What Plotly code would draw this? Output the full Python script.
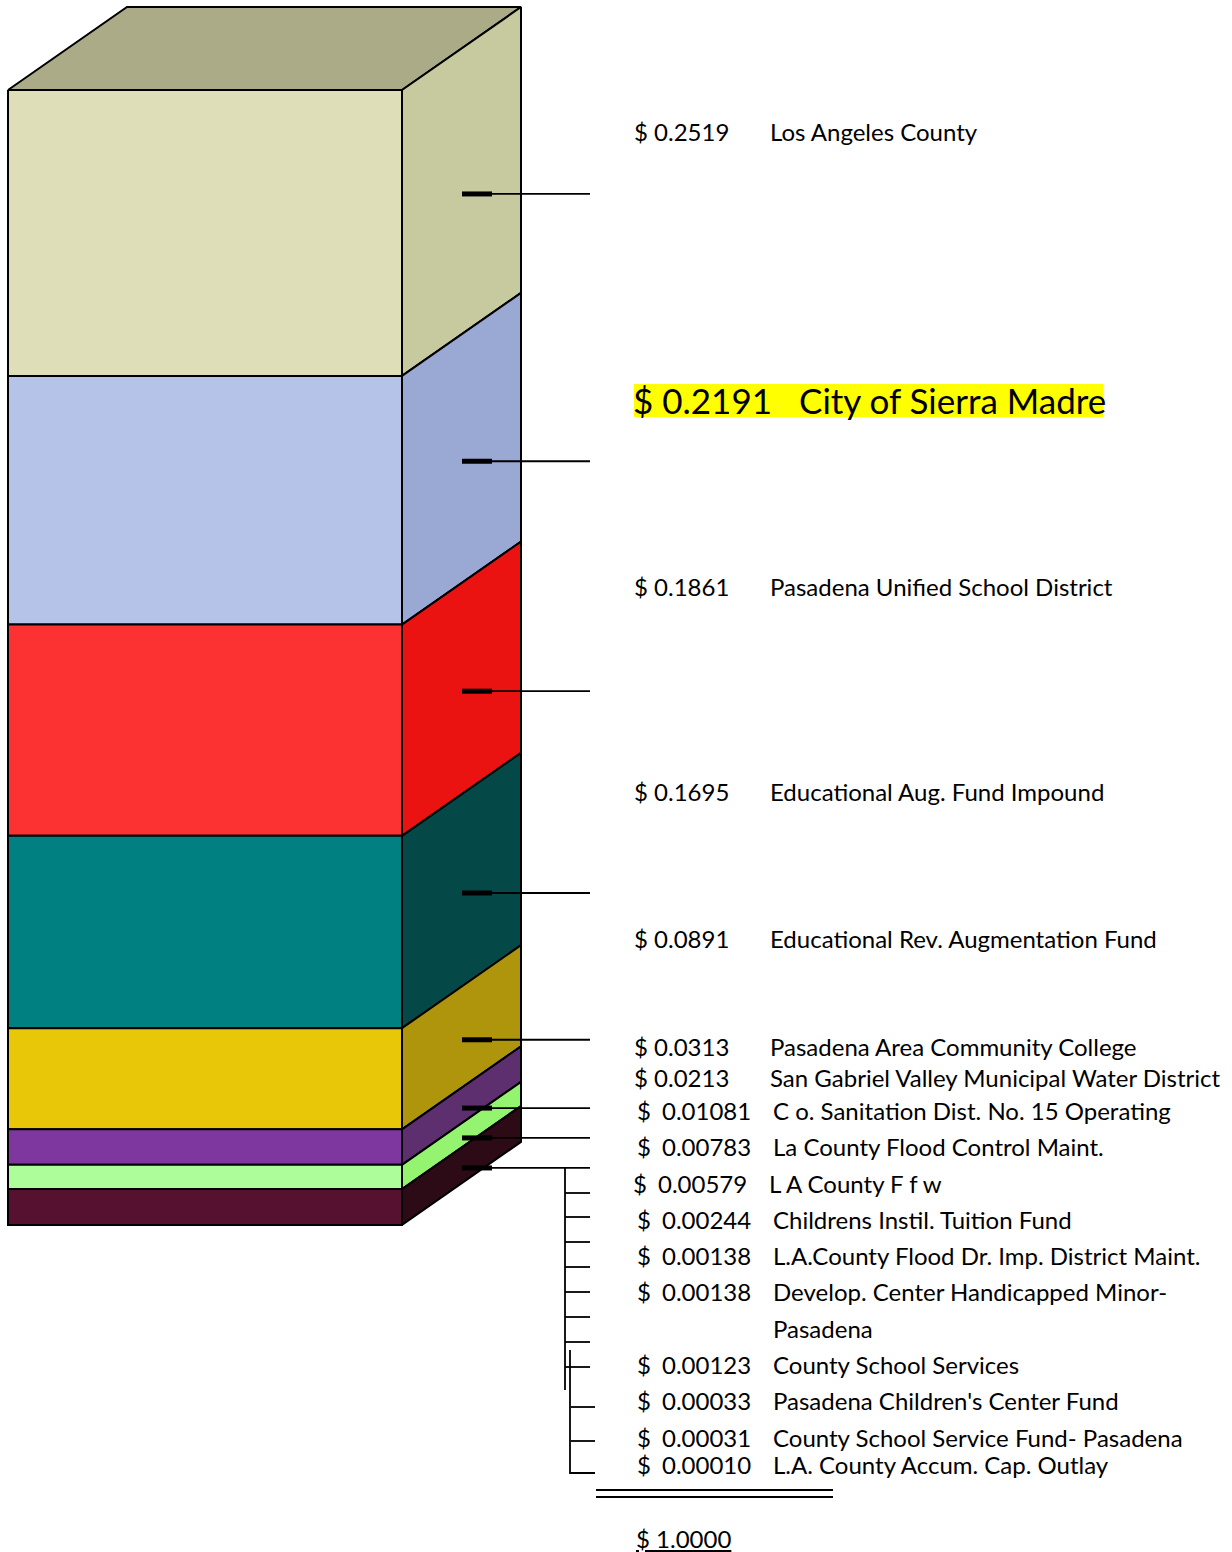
import plotly.graph_objects as go

# ---------------- data ----------------
seg_names = ["Los Angeles County", "City of Sierra Madre", "Pasadena Unified School District",
             "Educational Aug. Fund Impound", "Educational Rev. Augmentation Fund",
             "Pasadena Area Community College", "San Gabriel Valley Municipal Water District"]
seg_values = [0.2519, 0.2191, 0.1861, 0.1695, 0.0891, 0.0313, 0.0213]

small_names = ["C o. Sanitation Dist. No. 15 Operating", "La County Flood Control Maint.",
               "L A County F f w", "Childrens Instil. Tuition Fund",
               "L.A.County Flood Dr. Imp. District Maint.", "Develop. Center Handicapped Minor-",
               "County School Services", "Pasadena Children's Center Fund",
               "County School Service Fund- Pasadena", "L.A. County Accum. Cap. Outlay"]
small_values = ["0.01081", "0.00783", "0.00579", "0.00244", "0.00138", "0.00138",
                "0.00123", "0.00033", "0.00031", "0.00010"]
main_value_labels = ["0.2519", "0.2191", "0.1861", "0.1695", "0.0891", "0.0313", "0.0213"]
total_label = "1.0000"

# ---------------- styles / layout positions ----------------
front_colors = ["#DEDEB9", "#B5C3E8", "#FC3232", "#008080", "#E8C608", "#7F37A0", "#ADFE9A", "#561030"]
side_colors = ["#C7C99F", "#9AA9D3", "#EB1212", "#054848", "#AE950B", "#5E2F6F", "#94F470", "#2C0B16"]
top_color = "#ABAC87"

W, H = 1232, 1552
X0, X1 = 8, 402          # front face
DX, DY = 119, 83         # depth offset
Y_TOP, SCALE = 90, 1135  # pixels per unit of tax rate

FONT = "Lato"
FS = 24
FS_BIG = 35

main_label_y = [131, 400, 586, 791, 938, 1046, 1077]
small_label_y = [1110, 1146, 1183, 1219, 1255, 1291, 1364, 1400, 1437, 1464]

fig = go.Figure()

def poly(xs, ys, color, lw=2):
    fig.add_trace(go.Scatter(x=xs + [xs[0]], y=ys + [ys[0]], mode="lines", fill="toself",
                             fillcolor=color, line=dict(color="#000000", width=lw),
                             hoverinfo="skip", showlegend=False))

def line(xs, ys, w=1.8):
    fig.add_trace(go.Scatter(x=xs, y=ys, mode="lines", line=dict(color="#000000", width=w),
                             hoverinfo="skip", showlegend=False))

values = seg_values + [sum(float(v) for v in small_values)]
cum = 0.0
tops, bots = [], []
for v in values:
    yt = Y_TOP + cum * SCALE
    cum += v
    yb = Y_TOP + cum * SCALE
    tops.append(yt)
    bots.append(yb)

# top face
poly([X0, X0 + DX, X1 + DX, X1], [Y_TOP, Y_TOP - DY, Y_TOP - DY, Y_TOP], top_color)
# segments
for i in range(len(values)):
    yt, yb = tops[i], bots[i]
    poly([X1, X1 + DX, X1 + DX, X1], [yt, yt - DY, yb - DY, yb], side_colors[i])
    poly([X0, X1, X1, X0], [yt, yt, yb, yb], front_colors[i])

# leader lines
lead_y = []
for i in range(len(values)):
    y = (tops[i] + bots[i]) / 2 - 39
    lead_y.append(y)
    line([462, 492], [y, y], 5)
    line([492, 590], [y, y])

# bracket for the small items
bx = 565
line([bx, bx], [lead_y[-1], 1390])
for y in [1193, 1217, 1242, 1267, 1292, 1317, 1342, 1367]:
    line([bx, 590], [y, y])
line([570, 570, 595], [1350, 1473, 1473])
for y in [1407, 1441]:
    line([571, 595], [y, y])
# total double line
line([596, 833], [1490, 1490], 2)
line([596, 833], [1497, 1497], 2)

ann = []
def text(x, y, s, size=FS, **kw):
    ann.append(dict(x=x, y=y, xref="x", yref="y", text=s, showarrow=False,
                    xanchor="left", yanchor="middle",
                    font=dict(family=FONT, size=size, color="#000000"), **kw))

for i, (nm, val, y) in enumerate(zip(seg_names, main_value_labels, main_label_y)):
    if i == 1:
        continue
    text(632, y, "$ " + val)
    text(768, y, nm)

# highlighted City of Sierra Madre
fig.add_shape(type="rect", x0=634, x1=1103, y0=384, y1=417, xref="x", yref="y",
              fillcolor="#FFFF00", line=dict(width=0), layer="below")
text(631, 400, "$ " + main_value_labels[1], FS_BIG)
text(797, 400, seg_names[1], FS_BIG)

for i, (nm, val, y) in enumerate(zip(small_names, small_values, small_label_y)):
    dx = -4 if i == 2 else 0
    text(635 + dx, y, "$")
    text(660 + dx, y, val)
    text(771 + dx, y, nm)
text(771, 1328, "Pasadena")

text(634, 1538, "<u>$ " + total_label + "</u>")

fig.update_layout(
    width=W, height=H, margin=dict(l=0, r=0, t=0, b=0),
    paper_bgcolor="#FFFFFF", plot_bgcolor="#FFFFFF", showlegend=False,
    xaxis=dict(range=[0, W], visible=False, fixedrange=True),
    yaxis=dict(range=[H, 0], visible=False, fixedrange=True),
    annotations=ann,
)

fig.write_html("out.html", config={"displayModeBar": False},
               post_script="document.body.style.margin='0';document.body.style.overflow='hidden';")
